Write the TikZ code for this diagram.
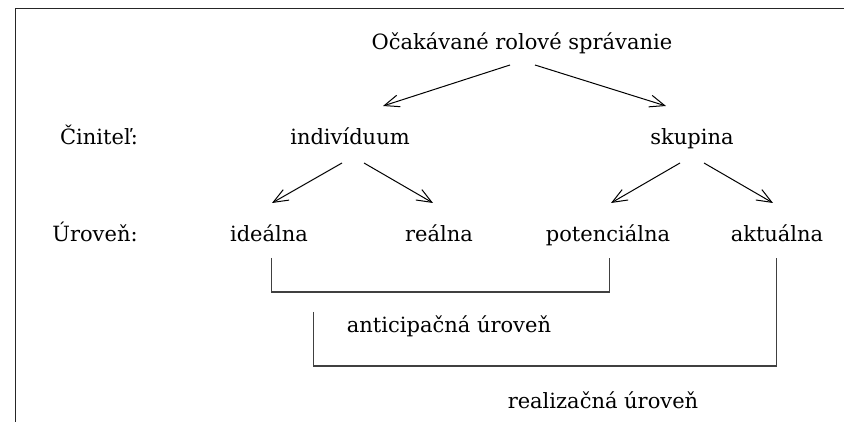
\documentclass[tikz,border=0pt]{standalone}
\usepackage{fontspec}
\setmainfont{DejaVu Serif}
\usetikzlibrary{arrows.meta}
\begin{document}
\begin{tikzpicture}[x=1pt,y=-1pt,
  lbl/.style={anchor=base,inner sep=0pt,font=\fontsize{21}{25}\selectfont,text=black},
  arr/.style={line width=1pt,-{Straight Barb[length=15pt,width=12pt,line width=1pt]}},
  brk/.style={line width=1.1pt,black!75}]
\useasboundingbox (0,0) rectangle (844,422);
\draw[line width=1.2pt,black!85] (15.5,422) -- (15.5,8.5) -- (844,8.5);
% nodes
\node[lbl] (title) at (522,50) {Očakávané rolové správanie};
\node[lbl] (cin) at (99,145) {Činiteľ:};
\node[lbl] (ind) at (350,145) {indivíduum};
\node[lbl] (sku) at (692,145) {skupina};
\node[lbl] (uro) at (95,242) {Úroveň:};
\node[lbl] (ide) at (269,242) {ideálna};
\node[lbl] (rea) at (439,242) {reálna};
\node[lbl] (pot) at (608,242) {potenciálna};
\node[lbl] (akt) at (777,242) {aktuálna};
\node[lbl] (ant) at (449,332) {anticipačná úroveň};
\node[lbl] (rez) at (603,408) {realizačná úroveň};
% arrow end points
\coordinate (t1) at (510,65); \coordinate (t2) at (535,65);
\coordinate (i0) at (383,106); \coordinate (s0) at (666,106);
\coordinate (i1) at (342,163); \coordinate (i2) at (364,163);
\coordinate (a1) at (272,203); \coordinate (a2) at (433,203);
\coordinate (s1) at (680,163); \coordinate (s2) at (704,163);
\coordinate (a3) at (611,203); \coordinate (a4) at (773,203);
\draw[arr] (t1) -- (i0);
\draw[arr] (t2) -- (s0);
\draw[arr] (i1) -- (a1);
\draw[arr] (i2) -- (a2);
\draw[arr] (s1) -- (a3);
\draw[arr] (s2) -- (a4);
% brackets
\coordinate (b1) at (271.5,258); \coordinate (b2) at (609.5,258);
\coordinate (c1) at (313.5,312); \coordinate (c2) at (776.5,258);
\draw[brk] (b1) -- (271.5,292) -- (609.5,292) -- (b2);
\draw[brk] (c1) -- (313.5,366) -- (776.5,366) -- (c2);
\end{tikzpicture}
\end{document}
